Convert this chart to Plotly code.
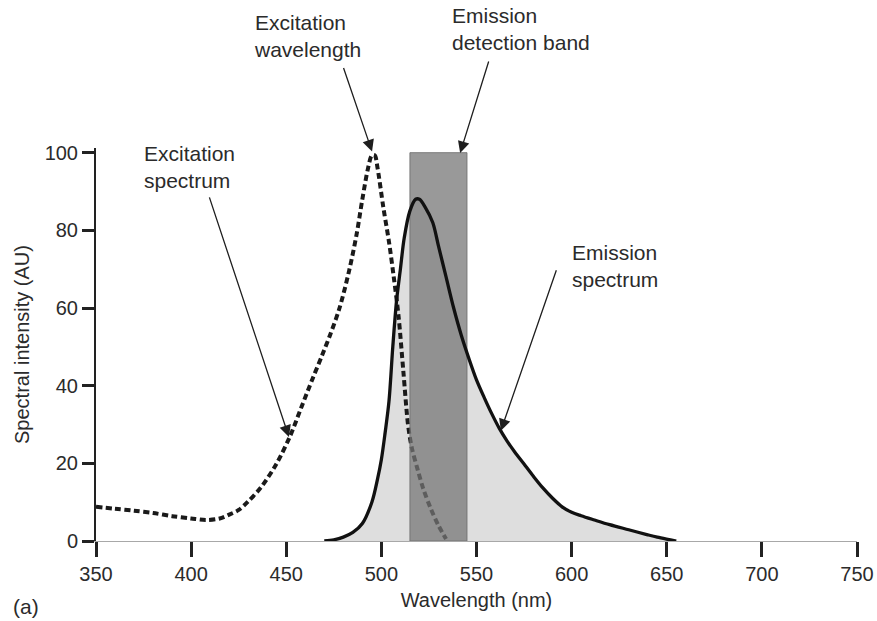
import plotly.graph_objects as go

# ---------------- data ----------------
exc_wl = [350, 360, 370, 380, 390, 400, 408, 415, 420, 425, 430, 437, 445, 452, 458,
          464, 469, 473, 478, 483, 487, 490, 493, 495, 496.5, 498, 501, 504,
          506.5, 509, 511.5, 514, 516, 519, 522, 526, 530, 534]
exc_val = [8.8, 8.3, 7.8, 7.2, 6.4, 5.8, 5.4, 5.8, 6.8, 8.0, 10.2, 14, 20, 27, 34.5,
           42, 48, 53, 60, 69.5, 79, 88, 96, 99.3, 99.3, 96, 86, 77,
           68, 58, 44, 30, 24, 18.5, 13.5, 8.3, 4, 0.5]

em_wl = [470, 475, 480, 485, 490, 495, 498, 500, 502, 504, 506, 508, 510, 512, 515,
         518, 520, 523, 527, 530, 534, 538, 542, 546, 550, 554, 558, 562, 566, 570,
         575, 580, 585, 590, 595, 600, 605, 612, 620, 630, 640, 645, 652, 655]
em_val = [0, 0.3, 1, 2.2, 4.5, 10, 16, 21, 28, 36, 50, 62, 70, 78, 85,
          88, 88, 86, 82, 76, 68, 60, 53, 47, 41.5, 37, 32.8, 29, 25.8, 23,
          19.8, 16.6, 13.6, 11, 8.8, 7.4, 6.5, 5.4, 4.2, 2.9, 1.6, 1.0, 0.3, 0]

band_lo, band_hi, band_top = 515, 545, 100

x_ticks = [350, 400, 450, 500, 550, 600, 650, 700, 750]
y_ticks = [0, 20, 40, 60, 80, 100]

FONT = "Liberation Sans, Arial, Helvetica, sans-serif"
TXT = "#2b2b2b"

fig = go.Figure()

# light fill under emission spectrum
fig.add_trace(go.Scatter(x=em_wl, y=em_val, mode="lines", fill="tozeroy",
                         fillcolor="#dedede", line=dict(width=0, color="rgba(0,0,0,0)",
                                                        shape="spline", smoothing=0.9),
                         hoverinfo="skip", showlegend=False))
# excitation spectrum (dashed)
fig.add_trace(go.Scatter(x=exc_wl, y=exc_val, mode="lines",
                         line=dict(color="#1a1a1a", width=4, dash="6px,3.5px",
                                   shape="spline", smoothing=0.9),
                         showlegend=False))
# emission detection band
fig.add_trace(go.Scatter(x=[band_lo, band_lo, band_hi, band_hi, band_lo],
                         y=[0, band_top, band_top, 0, 0], mode="lines",
                         fill="toself", fillcolor="rgba(118,118,118,0.74)",
                         line=dict(width=1, color="rgba(110,110,110,0.85)"),
                         hoverinfo="skip", showlegend=False))
# emission spectrum line
fig.add_trace(go.Scatter(x=em_wl, y=em_val, mode="lines",
                         line=dict(color="#111111", width=3.3, shape="spline", smoothing=0.9),
                         showlegend=False))

arrow = dict(showarrow=True, arrowhead=2, arrowsize=1.8, arrowwidth=1.3,
             arrowcolor="#1e1e1e", text="", xref="x", yref="y")
annotations = [
    dict(x=451.4, y=26.8, ax=-80, ay=-241, **arrow),
    dict(x=495.1, y=100.3, ax=-29, ay=-85, **arrow),
    dict(x=541.4, y=99.9, ax=29, ay=-93, **arrow),
    dict(x=562.8, y=28.4, ax=56, ay=-162, **arrow),
]
txt = dict(xref="paper", yref="paper", showarrow=False, xanchor="left", yanchor="top",
           align="left", font=dict(family=FONT, size=21, color=TXT))

W, H = 877, 621
ML, MR, MT, MB = 96, 20, 148, 80
PW, PH = W - ML - MR, H - MT - MB

labels = [
    ("Excitation<br>spectrum", 142, 140),
    ("Excitation<br>wavelength", 252, 9),
    ("Emission<br>detection band", 450, 2),
    ("Emission<br>spectrum", 570, 239),
]
for t, x, y in labels:
    annotations.append(dict(text=t, x=(x - ML) / PW, y=(H - MB - y) / PH, **txt))
annotations.append(dict(text="(a)", x=(11 - ML) / PW, y=(H - MB - 593) / PH, **txt))

fig.update_layout(
    width=W, height=H,
    margin=dict(l=ML, r=MR, t=MT, b=MB, autoexpand=False),
    paper_bgcolor="white", plot_bgcolor="white",
    font=dict(family=FONT, size=20, color=TXT),
    annotations=annotations,
    xaxis=dict(range=[350, 750], tickvals=x_ticks, ticktext=[str(v) for v in x_ticks],
               automargin=False,
               showgrid=False, zeroline=False, showline=True, linecolor="#a8a8a8",
               linewidth=1, ticks="outside", ticklen=15, tickwidth=2.5, tickcolor="#222",
               tickfont=dict(size=20, color=TXT),
               title=dict(text="Wavelength (nm)", font=dict(size=20, color=TXT), standoff=8)),
    yaxis=dict(range=[0, 101.2], tickvals=y_ticks, ticktext=[str(v) for v in y_ticks],
               automargin=False,
               showgrid=False, zeroline=False, showline=True, linecolor="#222",
               linewidth=2, ticks="outside", ticklen=12, tickwidth=2.5, tickcolor="#222",
               tickfont=dict(size=20, color=TXT),
               title=dict(text="Spectral intensity (AU)", font=dict(size=20, color=TXT),
                          standoff=10)),
)

fig.write_html("out.html")
